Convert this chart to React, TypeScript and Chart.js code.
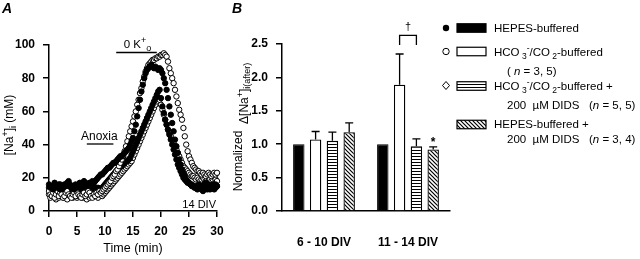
import React, { useEffect, useRef } from "react";
import { Chart, registerables } from "chart.js";
Chart.register(...registerables);

// ---------- Panel A data (sampled every 0.25 min, 0–30 min) ----------
const SAMPLE_INTERVAL_MIN = 0.25;
const hepesCell1 = [
  16,14,15,13,17,15,14,16,13,15,14,16,15,17,18,16,14,15,13,16,15,14,17,15,16,18,17,15,16,17,16,18,17,
  18,19,20,21,22,22,23,24,25,26,26,27,28,29,29,30,31,32,33,33,34,35,36,37,38,40,
  42,44,48,52,57,62,67,72,76,80,83,85,
  86,87,88,87,86,87,86,85,86,85,
  83,80,77,73,68,63,58,53,48,43,39,35,31,28,25,23,21,19,18,17,16,15,15,14,
  14,13,15,14,13,12,14,15,13,14,13,15,14,13,14,15,
];
const hco3Cell1 = [
  12,10,9,11,8,10,12,9,11,10,8,9,11,12,10,9,8,10,11,9,12,10,9,8,10,11,9,10,12,11,9,8,10,9,11,10,12,11,12,
  13,14,15,16,17,18,20,21,22,24,25,27,29,31,33,36,39,42,
  45,48,51,54,57,60,64,67,71,74,78,81,84,86,
  88,89,90,91,91,92,92,93,93,94,94,95,94,93,
  90,86,83,80,77,73,69,65,61,58,55,50,45,40,36,33,
  31,29,27,26,25,24,24,23,22,23,22,21,22,23,22,21,22,23,22,23,
];
const hepesCell2 = [
  14,12,13,15,11,13,14,12,16,13,12,14,13,11,15,14,12,13,15,14,12,13,11,14,13,15,12,14,13,12,14,13,15,12,13,14,12,13,14,15,
  16,17,18,19,20,21,22,23,24,25,26,27,27,28,29,30,30,31,32,
  34,36,38,40,42,44,46,48,50,52,54,56,58,60,62,64,66,68,70,72,73,
  68,63,59,55,52,49,46,43,40,37,34,31,28,26,24,22,20,
  19,18,17,17,16,16,15,15,14,15,16,15,14,15,16,17,15,16,15,14,16,15,16,15,
];
const hco3Cell2 = [
  10,8,9,11,9,7,10,8,9,11,10,8,9,7,10,9,11,8,9,10,8,9,11,10,8,9,10,7,9,8,10,9,11,10,9,8,10,11,9,10,11,
  12,13,14,15,16,17,18,19,20,21,22,23,24,25,26,27,28,29,30,32,
  34,36,38,40,42,44,46,48,50,52,54,56,58,60,62,64,66,68,
  67,64,61,58,55,52,49,47,45,43,41,39,37,35,33,31,29,27,
  26,25,24,23,22,21,21,20,19,20,19,18,19,20,19,18,19,20,19,18,19,20,19,18,
];
const anoxiaPeriod = [6.75, 11.5];
const zeroKPeriod = [12, 19.25];

// ---------- Panel B data ----------
const groups = ["6 - 10 DIV", "11 - 14 DIV"];
const hepesNorm = [1.0, 1.0];
const hco3Norm = [1.07, 1.89];
const hco3Err = [0.12, 0.46];
const hco3DidsNorm = [1.05, 0.97];
const hco3DidsErr = [0.13, 0.11];
const hepesDidsNorm = [1.18, 0.92];
const hepesDidsErr = [0.14, 0.04];

const FONT = '"Liberation Sans", Arial, Helvetica, sans-serif';

type Seg = { t: string; size?: number; dy?: number; italic?: boolean; bold?: boolean };
function fontFor(s: Seg, base: number) {
  return `${s.italic ? "italic " : ""}${s.bold ? "bold " : ""}${s.size ?? base}px ${FONT}`;
}
function drawRich(ctx: CanvasRenderingContext2D, segs: Seg[], x: number, y: number, base: number, align: "left" | "center" | "right" = "left") {
  let w = 0;
  for (const s of segs) { ctx.font = fontFor(s, base); w += ctx.measureText(s.t).width; }
  let cx = align === "left" ? x : align === "center" ? x - w / 2 : x - w;
  ctx.textAlign = "left";
  ctx.textBaseline = "alphabetic";
  ctx.fillStyle = "#000";
  for (const s of segs) {
    ctx.font = fontFor(s, base);
    ctx.fillText(s.t, cx, y + (s.dy || 0));
    cx += ctx.measureText(s.t).width;
  }
}
function drawRichRotated(ctx: CanvasRenderingContext2D, segs: Seg[], baseX: number, cy: number, base: number) {
  ctx.save();
  ctx.translate(baseX, cy);
  ctx.rotate(-Math.PI / 2);
  drawRich(ctx, segs, 0, 0, base, "center");
  ctx.restore();
}

function makeHorizontalPattern(ctx: CanvasRenderingContext2D) {
  const c = document.createElement("canvas");
  c.width = 4; c.height = 3;
  const g = c.getContext("2d")!;
  g.fillStyle = "#fff"; g.fillRect(0, 0, 4, 3);
  g.fillStyle = "#000"; g.fillRect(0, 0, 4, 1);
  return ctx.createPattern(c, "repeat")!;
}
function makeDiagonalPattern(ctx: CanvasRenderingContext2D) {
  const c = document.createElement("canvas");
  c.width = 4; c.height = 4;
  const g = c.getContext("2d")!;
  g.fillStyle = "#fff"; g.fillRect(0, 0, 4, 4);
  g.strokeStyle = "#000"; g.lineWidth = 1.2;
  g.beginPath();
  g.moveTo(-1, -1); g.lineTo(5, 5);
  g.moveTo(-1, 3); g.lineTo(1, 5);
  g.moveTo(3, -1); g.lineTo(5, 1);
  g.stroke();
  return ctx.createPattern(c, "repeat")!;
}

const axisCommon = (tickLength: number, drawTicks = true) => ({
  grid: { drawOnChartArea: false, drawTicks, tickLength, color: "#000", lineWidth: 1.5 },
  border: { color: "#000", width: 1.5 },
});

export default function App() {
  const aRef = useRef<HTMLCanvasElement>(null);
  const bRef = useRef<HTMLCanvasElement>(null);

  useEffect(() => {
    const toPts = (vals: number[]) => vals.map((v, i) => ({ x: i * SAMPLE_INTERVAL_MIN, y: v }));
    const open = { backgroundColor: "#fff", borderColor: "#000" };
    const filled = { backgroundColor: "#000", borderColor: "#000" };
    const ptStyle = { pointRadius: 2.7, pointBorderWidth: 1, showLine: false, clip: false as any };

    const annotA = {
      id: "annotA",
      afterDraw(chart: any) {
        const ctx: CanvasRenderingContext2D = chart.ctx;
        const xs = chart.scales.x;
        ctx.save();
        drawRich(ctx, [{ t: "A", bold: true, italic: true }], 2, 13, 14);
        drawRichRotated(ctx, [{ t: "[Na" }, { t: "+", size: 9, dy: -5 }, { t: "]" }, { t: "i", size: 9, dy: 3 }, { t: " (mM)" }], 13, 125, 12);
        drawRich(ctx, [{ t: "Time (min)" }], (xs.left + xs.right) / 2, 252, 12.5, "center");
        ctx.strokeStyle = "#000"; ctx.lineWidth = 1.3;
        const k0 = xs.getPixelForValue(zeroKPeriod[0]), k1 = xs.getPixelForValue(zeroKPeriod[1]);
        ctx.beginPath(); ctx.moveTo(k0, 52.5); ctx.lineTo(k1, 52.5); ctx.stroke();
        drawRich(ctx, [{ t: "0 K" }, { t: "+", size: 9, dy: -5 }, { t: "o", size: 9, dy: 3 }], (k0 + k1) / 2 + 1, 47.5, 11.5, "center");
        const a0 = xs.getPixelForValue(anoxiaPeriod[0]), a1 = xs.getPixelForValue(anoxiaPeriod[1]);
        ctx.beginPath(); ctx.moveTo(a0, 144); ctx.lineTo(a1, 144); ctx.stroke();
        drawRich(ctx, [{ t: "Anoxia" }], 81, 140, 12);
        drawRich(ctx, [{ t: "14 DIV" }], 216, 207.5, 11, "right");
        ctx.restore();
      },
    };

    const chartA = new Chart(aRef.current!, {
      type: "scatter",
      data: {
        datasets: [
          { data: toPts(hepesCell1), ...filled, ...ptStyle },
          { data: toPts(hco3Cell1), ...open, ...ptStyle },
          { data: toPts(hepesCell2), ...filled, ...ptStyle },
          { data: toPts(hco3Cell2), ...open, ...ptStyle },
        ] as any,
      },
      options: {
        animation: false,
        responsive: false,
        maintainAspectRatio: false,
        layout: { padding: { left: 0, top: 45, right: 640 - 217, bottom: 0 } },
        plugins: { legend: { display: false }, tooltip: { enabled: false } },
        scales: {
          x: {
            type: "linear", min: 0, max: 30,
            ticks: { stepSize: 5, color: "#000", padding: 7, maxRotation: 0, font: { family: FONT, size: 12, weight: "bold" } },
            ...axisCommon(6),
            afterFit: (s: any) => { s.height = 48; },
          },
          y: {
            min: 0, max: 100,
            ticks: { stepSize: 20, color: "#000", padding: 8, font: { family: FONT, size: 12, weight: "bold" } },
            ...axisCommon(6),
            afterFit: (s: any) => { s.width = 49; },
          },
        } as any,
      },
      plugins: [annotA],
    });

    const ctxB = bRef.current!.getContext("2d")!;
    const hPat = makeHorizontalPattern(ctxB);
    const dPat = makeDiagonalPattern(ctxB);
    const errors: Record<number, number[]> = { 1: hco3Err, 2: hco3DidsErr, 3: hepesDidsErr };

    const annotB = {
      id: "annotB",
      afterDatasetsDraw(chart: any) {
        const ctx: CanvasRenderingContext2D = chart.ctx;
        const ys = chart.scales.y;
        ctx.save();
        ctx.strokeStyle = "#000"; ctx.lineWidth = 1.3;
        for (const key of Object.keys(errors)) {
          const di = Number(key);
          const meta = chart.getDatasetMeta(di);
          const vals = chart.data.datasets[di].data as number[];
          meta.data.forEach((el: any, j: number) => {
            const top = ys.getPixelForValue(vals[j] + errors[di][j]);
            ctx.beginPath();
            ctx.moveTo(el.x, el.y); ctx.lineTo(el.x, top);
            ctx.moveTo(el.x - 4, top); ctx.lineTo(el.x + 4, top);
            ctx.stroke();
          });
        }
        ctx.restore();
      },
      afterDraw(chart: any) {
        const ctx: CanvasRenderingContext2D = chart.ctx;
        const ys = chart.scales.y;
        ctx.save();
        drawRich(ctx, [{ t: "B", bold: true, italic: true }], 232, 13, 14);
        drawRichRotated(ctx, [{ t: "Normalized  " }, { t: "Δ[Na", dy: 6 }, { t: "+", size: 9, dy: 1 }, { t: "]", dy: 6 }, { t: "i(after)", size: 9, dy: 8 }], 242, 127, 12);
        const wEl = chart.getDatasetMeta(1).data[1];
        const hEl = chart.getDatasetMeta(2).data[1];
        const bTop = ys.getPixelForValue(2.63), bLeg = ys.getPixelForValue(2.485);
        ctx.strokeStyle = "#000"; ctx.lineWidth = 1.3;
        ctx.beginPath();
        ctx.moveTo(wEl.x, bLeg); ctx.lineTo(wEl.x, bTop); ctx.lineTo(hEl.x, bTop); ctx.lineTo(hEl.x, bLeg);
        ctx.stroke();
        drawRich(ctx, [{ t: "†" }], (wEl.x + hEl.x) / 2, 30, 11, "center");
        const sEl = chart.getDatasetMeta(3).data[1];
        const sTop = ys.getPixelForValue(hepesDidsNorm[1] + hepesDidsErr[1]);
        drawRich(ctx, [{ t: "*", bold: true }], sEl.x, sTop - 1, 12, "center");

        const boxX = 457, boxW = 29, boxH = 8.5, mx = 446;
        const box = (cy: number, fill: any) => {
          ctx.fillStyle = fill; ctx.fillRect(boxX, cy - boxH / 2, boxW, boxH);
          ctx.strokeStyle = "#000"; ctx.lineWidth = 1.2; ctx.strokeRect(boxX, cy - boxH / 2, boxW, boxH);
        };
        ctx.fillStyle = "#000";
        ctx.beginPath(); ctx.arc(mx, 28, 3.2, 0, Math.PI * 2); ctx.fill();
        box(28, "#000");
        drawRich(ctx, [{ t: "HEPES-buffered" }], 494, 32, 11.5);
        ctx.fillStyle = "#fff"; ctx.strokeStyle = "#000"; ctx.lineWidth = 1;
        ctx.beginPath(); ctx.arc(mx, 51.5, 3.2, 0, Math.PI * 2); ctx.fill(); ctx.stroke();
        box(51.5, "#fff");
        const hco = [{ t: "HCO" }, { t: " 3", size: 8.5, dy: 3 }, { t: "-", size: 8.5, dy: -5 }, { t: "/CO" }, { t: " 2", size: 8.5, dy: 3 }] as Seg[];
        drawRich(ctx, [...hco, { t: "-buffered" }], 494, 55.5, 11.5);
        drawRich(ctx, [{ t: "( " }, { t: "n", italic: true }, { t: " = 3, 5)" }], 507, 75, 11.5);
        ctx.fillStyle = "#fff"; ctx.lineWidth = 1;
        ctx.beginPath(); ctx.moveTo(mx, 81.5); ctx.lineTo(mx + 3.5, 85.5); ctx.lineTo(mx, 89.5); ctx.lineTo(mx - 3.5, 85.5); ctx.closePath(); ctx.fill(); ctx.stroke();
        box(86, hPat);
        drawRich(ctx, [...hco, { t: "-buffered +" }], 494, 89.5, 11.5);
        drawRich(ctx, [{ t: "200  µM DIDS   (" }, { t: "n", italic: true }, { t: " = 5, 5)" }], 507, 108.5, 11.5);
        box(124.5, dPat);
        drawRich(ctx, [{ t: "HEPES-buffered +" }], 494, 127.5, 11.5);
        drawRich(ctx, [{ t: "200  µM DIDS   (" }, { t: "n", italic: true }, { t: " = 3, 4)" }], 507, 142.5, 11.5);
        ctx.restore();
      },
    };

    const chartB = new Chart(bRef.current!, {
      type: "bar",
      data: {
        labels: groups,
        datasets: [
          { data: hepesNorm, backgroundColor: "#000", borderColor: "#000", borderWidth: 1 },
          { data: hco3Norm, backgroundColor: "#fff", borderColor: "#000", borderWidth: 1.3 },
          { data: hco3DidsNorm, backgroundColor: hPat, borderColor: "#000", borderWidth: 1.3 },
          { data: hepesDidsNorm, backgroundColor: dPat, borderColor: "#000", borderWidth: 1.3 },
        ] as any,
      },
      options: {
        animation: false,
        responsive: false,
        maintainAspectRatio: false,
        layout: { padding: { left: 225, top: 44, right: 190, bottom: 0 } },
        datasets: { bar: { categoryPercentage: 0.8, barPercentage: 0.68 } },
        plugins: { legend: { display: false }, tooltip: { enabled: false } },
        scales: {
          x: {
            ticks: { color: "#000", padding: 24, font: { family: FONT, size: 12, weight: "bold" } },
            ...axisCommon(0, false),
            afterFit: (s: any) => { s.height = 48; },
          },
          y: {
            min: 0, max: 2.5,
            ticks: { stepSize: 0.5, color: "#000", padding: 8, font: { family: FONT, size: 12, weight: "bold" }, callback: (v: any) => Number(v).toFixed(1) },
            ...axisCommon(6),
            afterFit: (s: any) => { s.width = 57; },
          },
        } as any,
      },
      plugins: [annotB],
    });

    return () => { chartA.destroy(); chartB.destroy(); };
  }, []);

  return (
    <div style={{ position: "fixed", left: 0, top: 0, width: 640, height: 259, background: "#fff" }}>
      <canvas ref={aRef} width={640} height={259} style={{ position: "absolute", left: 0, top: 0 }} />
      <canvas ref={bRef} width={640} height={259} style={{ position: "absolute", left: 0, top: 0 }} />
    </div>
  );
}
